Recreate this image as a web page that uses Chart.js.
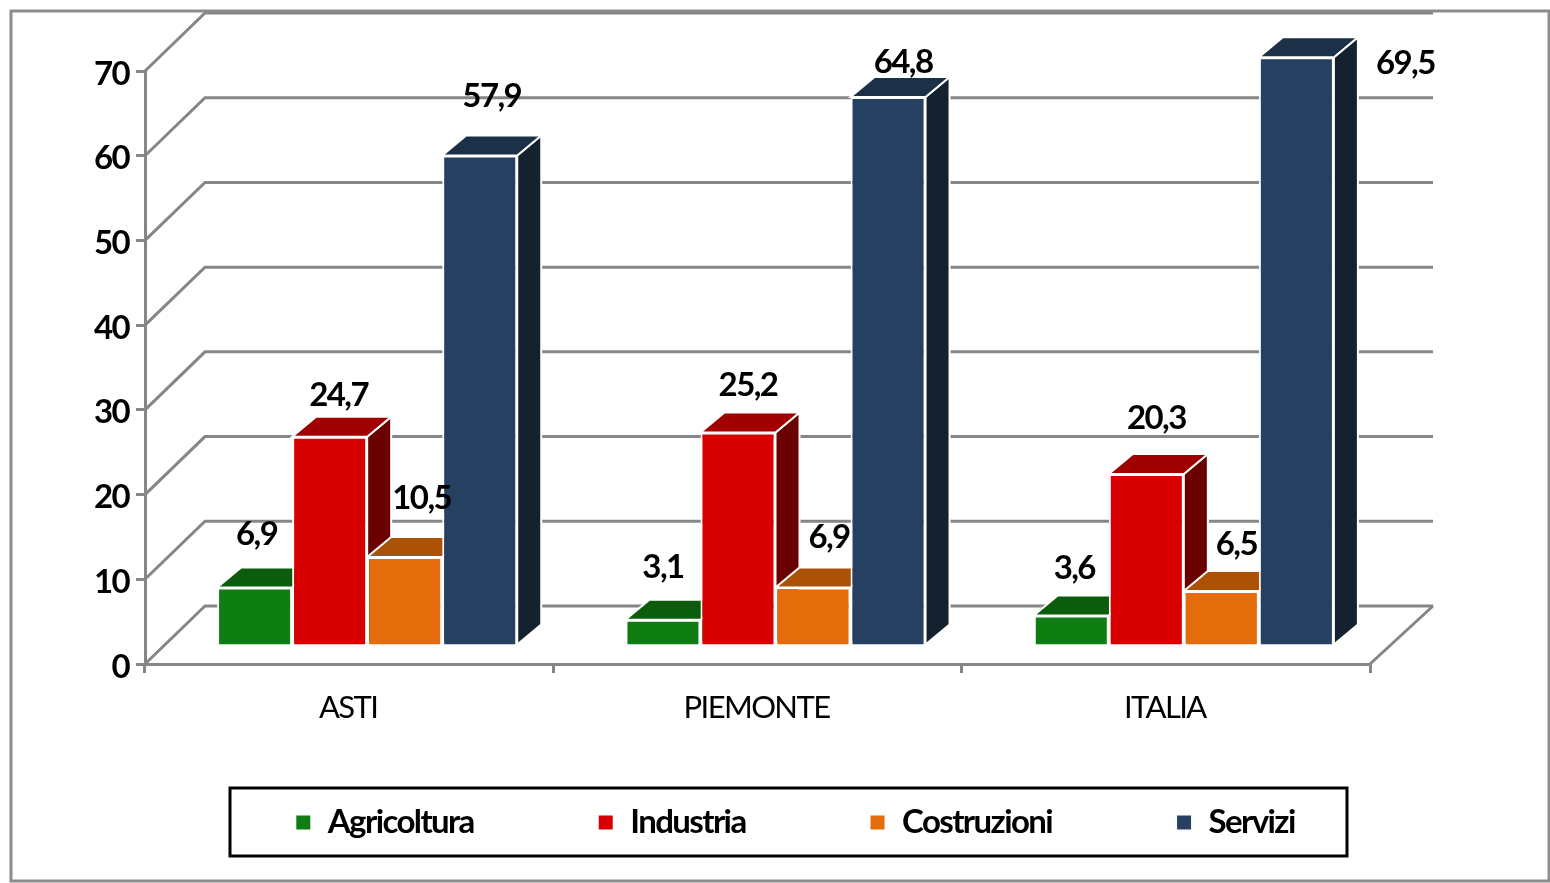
<!DOCTYPE html>
<html><head><meta charset="utf-8">
<style>html,body{margin:0;padding:0;background:#fff}#w{width:1550px;height:883px;position:relative}canvas{display:block}</style>
<script src="https://cdn.jsdelivr.net/npm/chart.js@4"></script>
</head><body><div id="w"><canvas id="c"></canvas></div>
<script>
const categories = ['ASTI','PIEMONTE','ITALIA'];
const agricoltura = [6.9,3.1,3.6];
const industria = [24.7,25.2,20.3];
const costruzioni = [10.5,6.9,6.5];
const servizi = [57.9,64.8,69.5];
const seriesNames = ['Agricoltura','Industria','Costruzioni','Servizi'];
const frontColors = ['#0e7d12','#d80000','#e46c0a','#254061'];
const topColors = ['#0b5c0d','#a00000','#ab5207','#1c3048'];
const sideColors = ['#084a0a','#6b0000','#8a4205','#14212f'];
// label placement relative to bar centre/top, per series then category
const labelOffsets = [
 [[2,-53],[0,-52],[3,-47]],
 [[9,-41],[10,-47],[10,-56]],
 [[17,-59],[16,-50],[15,-47]],
 [[12,-59],[15,-35],[109,6]]
];
const FONT = 'Lato';
const GRID = '#868686';
const WALL = {dx:60,dy:-58};   // depth of the chart walls
const SHIFT = {dx:18,dy:-18};  // bars stand mid-way on the floor
const BAR = {dx:24,dy:-20};    // depth of each bar
const TIGHT = '-1.6px';

const threeD = {
  id:'threeD',
  beforeLayout(chart){chart.ctx.letterSpacing=TIGHT;},
  beforeDraw(chart){
    const c=chart.ctx;
    c.letterSpacing=TIGHT;
    c.save();c.strokeStyle='#8c8c8c';c.lineWidth=3;
    c.strokeRect(11,11,1538,870);
    c.restore();
  },
  afterLayout(chart){
    const l=chart.legend;
    l.left=130;l.right=1460;l.width=l.right-l.left;
    l.top=823-l.options.labels.padding-17;l.bottom=860;l.height=l.bottom-l.top;
  },
  beforeDatasetsDraw(chart){
    const c=chart.ctx,y=chart.scales.y,a=chart.chartArea;
    c.save();c.strokeStyle=GRID;c.lineWidth=3;c.lineCap='butt';
    y.ticks.forEach(t=>{
      const p=y.getPixelForValue(t.value);
      c.beginPath();
      c.moveTo(a.left,p);c.lineTo(a.left+WALL.dx,p+WALL.dy);
      c.lineTo(a.right+WALL.dx+3,p+WALL.dy);
      c.stroke();
    });
    const p0=y.getPixelForValue(0);
    c.beginPath();c.moveTo(a.right+WALL.dx+3,p0+WALL.dy);c.lineTo(a.right,p0);c.stroke();
    c.restore();
    c.save();c.translate(SHIFT.dx,SHIFT.dy);
    // side and top faces go down first, series by series; the library then paints the fronts over them
    chart.data.datasets.forEach((d,i)=>{
      chart.getDatasetMeta(i).data.forEach(b=>{
        const l=b.x-b.width/2,r=b.x+b.width/2,t=b.y,bs=b.base;
        c.save();c.strokeStyle='#fff';c.lineWidth=2;c.lineJoin='miter';
        c.fillStyle=sideColors[i];
        c.beginPath();c.moveTo(r,bs);c.lineTo(r+BAR.dx,bs+BAR.dy);c.lineTo(r+BAR.dx,t+BAR.dy);c.lineTo(r,t);c.closePath();c.fill();c.stroke();
        c.fillStyle=topColors[i];
        c.beginPath();c.moveTo(l,t);c.lineTo(l+BAR.dx,t+BAR.dy);c.lineTo(r+BAR.dx,t+BAR.dy);c.lineTo(r,t);c.closePath();c.fill();c.stroke();
        c.restore();
      });
    });
  },
  afterDatasetsDraw(chart){
    const c=chart.ctx;
    c.restore();
    c.save();
    c.font='bold 33px '+FONT;c.fillStyle='#000';c.textAlign='center';c.textBaseline='middle';
    chart.data.datasets.forEach((d,i)=>{
      chart.getDatasetMeta(i).data.forEach((b,j)=>{
        const o=labelOffsets[i][j];
        c.fillText(String(d.data[j]).replace('.',','),b.x+SHIFT.dx+o[0],b.y+SHIFT.dy+o[1]);
      });
    });
    c.restore();
  },
  afterDraw(chart){
    const c=chart.ctx;
    c.save();c.strokeStyle='#000';c.lineWidth=3;c.strokeRect(230,788,1117,68);c.restore();
  }
};

const seriesValues=[agricoltura,industria,costruzioni,servizi];
new Chart(document.getElementById('c'),{
  type:'bar',
  plugins:[threeD],
  data:{labels:categories,datasets:seriesValues.map((v,i)=>({
    label:seriesNames[i],data:v,backgroundColor:frontColors[i],
    borderColor:'#fff',borderWidth:2,borderSkipped:'bottom',
    categoryPercentage:0.735,barPercentage:1,clip:false
  }))},
  options:{
    responsive:true,maintainAspectRatio:false,animation:false,
    layout:{padding:{top:71,right:180,left:0,bottom:0}},
    plugins:{
      tooltip:{enabled:false},
      legend:{position:'bottom',maxHeight:70,labels:{
        boxWidth:16,boxHeight:16,padding:124,color:'#000',
        font:{family:FONT,weight:'bold',size:33}
      }}
    },
    scales:{
      x:{offset:true,
        afterFit(s){s.height=149;},
        grid:{offset:true,drawOnChartArea:false,drawTicks:true,tickLength:9,color:GRID,lineWidth:3},
        border:{color:GRID,width:3},
        ticks:{color:'#000',padding:16,labelOffset:-1,maxRotation:0,font:{family:FONT,size:31}}
      },
      y:{min:0,max:70,
        afterFit(s){s.width=145;},
        grid:{drawOnChartArea:false,drawTicks:true,tickLength:9,color:GRID,lineWidth:3},
        border:{color:GRID,width:3},
        ticks:{stepSize:10,color:'#000',padding:7,labelOffset:3,font:{family:FONT,weight:'bold',size:33}}
      }
    }
  }
});
</script></body></html>
